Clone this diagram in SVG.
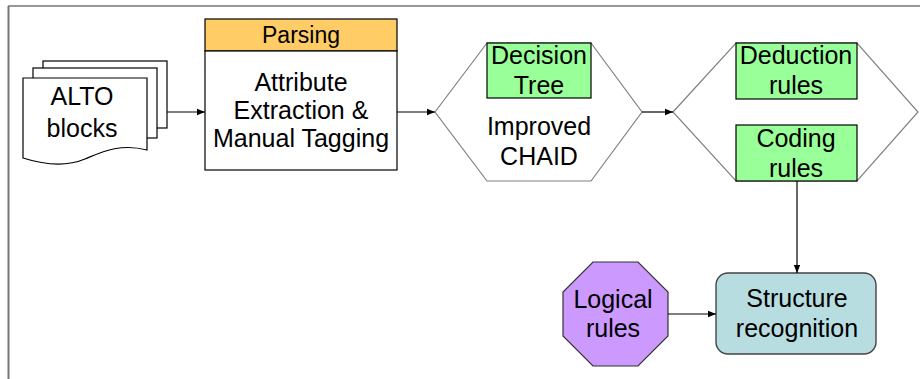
<svg xmlns="http://www.w3.org/2000/svg" width="920" height="379" viewBox="0 0 920 379">
<defs>
<style>
text{font-family:"Liberation Sans",Arial,sans-serif;font-size:25px;fill:#000;text-anchor:middle}
.page{fill:#fff;stroke:#000;stroke-width:1.2}
.box{stroke:#000;stroke-width:1.2}
.hex{fill:#fff;stroke:#808080;stroke-width:1.2}
.green{fill:#99ff99;stroke:#000;stroke-width:1.2}
.conn{stroke:#000;stroke-width:1.2;fill:none;marker-end:url(#arr)}
</style>
<marker id="arr" viewBox="0 0 10 10" refX="10" refY="5" markerWidth="8" markerHeight="8" markerUnits="userSpaceOnUse" orient="auto">
<path d="M0,1 L10,5 L0,9 Z" fill="#000"/>
</marker>
</defs>
<rect width="920" height="379" fill="#fff"/>
<g id="frame">
<line x1="8" y1="6" x2="920" y2="6" stroke="#333" stroke-width="1.2"/>
<line x1="8.5" y1="6" x2="8.5" y2="379" stroke="#777" stroke-width="2"/>
</g>
<g id="alto">
<rect class="page" x="43" y="61" width="124" height="67"/>
<rect class="page" x="33" y="68" width="124" height="70"/>
<path class="page" d="M23,78 H147 V150 C120,143 102,152 85,159 C66,167 45,165 23,158 Z"/>
<text x="82" y="105">ALTO</text>
<text x="82" y="137">blocks</text>
</g>
<g id="parsing">
<rect class="box" x="205" y="19" width="192" height="32" fill="#ffcc66"/>
<rect class="box" x="205" y="51" width="192" height="119" fill="#fff"/>
<text x="301" y="43" style="font-size:23px">Parsing</text>
<text x="301" y="91">Attribute</text>
<text x="301" y="119">Extraction &amp;</text>
<text x="301" y="147">Manual Tagging</text>
</g>
<g id="chaid">
<polygon class="hex" points="435,112 487,43 591,43 642,112 591,181 487,181"/>
<rect class="green" x="487" y="43" width="104" height="55"/>
<text x="539" y="64">Decision</text>
<text x="539" y="94">Tree</text>
<text x="539" y="135">Improved</text>
<text x="539" y="165">CHAID</text>
</g>
<g id="rules">
<polygon class="hex" points="673,112 736,43 857,43 918,112 857,181 736,181"/>
<rect class="green" x="736" y="43" width="121" height="56"/>
<text x="796" y="64">Deduction</text>
<text x="796" y="94">rules</text>
<rect class="green" x="736" y="125" width="121" height="56"/>
<text x="796" y="147">Coding</text>
<text x="796" y="177">rules</text>
</g>
<g id="logical">
<polygon points="593,262 638,262 668,292 668,336 638,366 593,366 563,336 563,292" fill="#cc99ff" stroke="#333" stroke-width="1.2"/>
<text x="613" y="308">Logical</text>
<text x="613" y="337">rules</text>
</g>
<g id="structure">
<rect x="716" y="273" width="160" height="81" rx="12" fill="#b7dde1" stroke="#444" stroke-width="1.4"/>
<text x="797" y="307">Structure</text>
<text x="797" y="337">recognition</text>
</g>
<g id="connectors">
<line class="conn" x1="167" y1="112" x2="205" y2="112"/>
<line class="conn" x1="397" y1="112" x2="435" y2="112"/>
<line class="conn" x1="642" y1="112" x2="673" y2="112"/>
<line class="conn" x1="797" y1="181" x2="797" y2="273"/>
<line class="conn" x1="668" y1="314" x2="716" y2="314"/>
</g>
</svg>
